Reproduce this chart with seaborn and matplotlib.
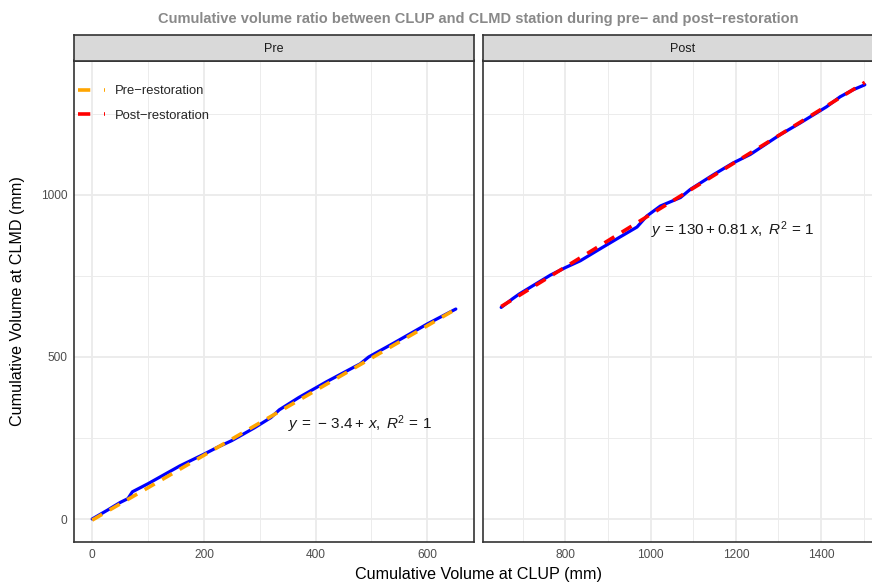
import numpy as np
import pandas as pd
import matplotlib
matplotlib.use("Agg")
import matplotlib.pyplot as plt
from matplotlib.lines import Line2D
from matplotlib.ticker import MultipleLocator
import seaborn as sns

# Cumulative volumes (mm): CLUP station (x) against CLMD station (y)
pre_clup = [0, 27, 50, 64, 72, 100, 157, 200, 225, 250, 290, 320, 335, 370,
            420, 470, 480, 495, 540, 600, 651]
pre_clmd = [0, 27, 51, 63, 84, 109, 164, 200, 222, 242, 281, 313, 337, 375,
            424, 470, 479, 500, 543, 602, 648]
post_clup = [649, 675, 691, 726, 765, 800, 835, 874, 929, 968, 991, 1023,
             1070, 1093, 1148, 1194, 1234, 1304, 1351, 1413, 1445, 1476, 1503]
post_clmd = [653, 679, 694, 722, 753, 776, 797, 828, 871, 901, 935, 966,
             992, 1017, 1063, 1099, 1125, 1186, 1222, 1272, 1303, 1325, 1340]

panel_names = ["Pre", "Post"]
fit_names = ["Pre\u2212restoration", "Post\u2212restoration"]
fit_intercepts = [-3.4, 130]
fit_slopes = [1.0, 0.81]
fit_r2 = [1, 1]
fit_colors = ["#FFA500", "#FF0000"]
eq_texts = [r"$y\,=\,-\,3.4+\,x,\;R^2\,=\,1$", r"$y\,=\,130+0.81\;x,\;R^2\,=\,1$"]
eq_pos = [(350, 278), (1000, 878)]

sns.set_style("white")
plt.rcParams["font.family"] = ["Liberation Sans", "DejaVu Sans"]
plt.rcParams["mathtext.fontset"] = "custom"
plt.rcParams["mathtext.rm"] = "Liberation Sans"
plt.rcParams["mathtext.it"] = "Liberation Sans:italic"
plt.rcParams["mathtext.bf"] = "Liberation Sans:bold"

W, H = 872, 582
fig = plt.figure(figsize=(W / 100, H / 100), dpi=100)

def fx(px):
    return px / W

def fy(py):
    return 1 - py / H

panel_top, panel_bot = 60.5, 542.0
strip_top = 34.5
lefts = [74.0, 483.0]
pw = 400.0

data = [pd.DataFrame({"clup": pre_clup, "clmd": pre_clmd}),
        pd.DataFrame({"clup": post_clup, "clmd": post_clmd})]

border = "#333333"
axes = []
for i in range(2):
    rect = [fx(lefts[i]), fy(panel_bot), pw / W, (panel_bot - panel_top) / H]
    ax = fig.add_axes(rect, sharey=axes[0] if axes else None)
    axes.append(ax)
    df = data[i]
    sns.lineplot(data=df, x="clup", y="clmd", ax=ax, color="#0000FF",
                 lw=2.3, estimator=None, sort=False, zorder=3)
    xs = np.array([df["clup"].min(), df["clup"].max()], dtype=float)
    fit = pd.DataFrame({"x": xs, "y": fit_intercepts[i] + fit_slopes[i] * xs})
    sns.lineplot(data=fit, x="x", y="y", ax=ax, color=fit_colors[i], lw=2.6,
                 linestyle=(0, (3.2, 2.4)), estimator=None, sort=False, zorder=4)
    ax.text(eq_pos[i][0], eq_pos[i][1], eq_texts[i], fontsize=11,
            color="#1A1A1A", ha="left", va="baseline", zorder=5)
    ax.set_xlabel("")
    ax.set_ylabel("")
    ax.margins(x=0.05, y=0.05)

    ax.xaxis.set_major_locator(MultipleLocator(200))
    ax.xaxis.set_minor_locator(MultipleLocator(100))
    ax.yaxis.set_major_locator(MultipleLocator(500))
    ax.yaxis.set_minor_locator(MultipleLocator(250))
    ax.set_axisbelow(True)
    ax.grid(which="major", color="#EBEBEB", lw=1.3)
    ax.grid(which="minor", color="#EBEBEB", lw=0.65)
    ax.tick_params(which="minor", length=0)
    ax.tick_params(which="major", length=3, width=0.9, color=border,
                   labelsize=8.6, labelcolor="#4D4D4D", pad=2)
    for s in ax.spines.values():
        s.set_color(border)
        s.set_linewidth(1.2)
        s.set_visible(True)

    # facet strip
    sax = fig.add_axes([fx(lefts[i]), fy(panel_top), pw / W,
                        (panel_top - strip_top) / H])
    sax.set_facecolor("#D9D9D9")
    sax.set_xticks([])
    sax.set_yticks([])
    for s in sax.spines.values():
        s.set_color(border)
        s.set_linewidth(1.2)
    sax.text(0.5, 0.45, panel_names[i], transform=sax.transAxes, ha="center",
             va="center", fontsize=9, color="#1A1A1A")

axes[1].tick_params(axis="y", left=False, labelleft=False)

handles = [Line2D([], [], color=c, lw=2.6, linestyle=(0, (3.4, 3.8)))
           for c in fit_colors]
axes[0].legend(handles, fit_names, loc="upper left",
               bbox_to_anchor=(0.01, 0.949), frameon=False, fontsize=9.4,
               handlelength=2.08, handletextpad=0.77, labelspacing=0.95,
               borderpad=0, borderaxespad=0)

fig.text(fx(478.5), fy(19), "Cumulative volume ratio between CLUP and CLMD "
         "station during pre\u2212 and post\u2212restoration", ha="center",
         va="center", fontsize=10.5, fontweight="bold", color="#898989")
fig.text(fx(478.5), fy(575), "Cumulative Volume at CLUP (mm)", ha="center",
         va="center", fontsize=11.6, color="#000000")
fig.text(fx(18), fy((panel_top + panel_bot) / 2),
         "Cumulative Volume at CLMD (mm)", ha="center", va="center",
         rotation=90, fontsize=11.6, color="#000000")

fig.savefig("out.png", dpi=100)
